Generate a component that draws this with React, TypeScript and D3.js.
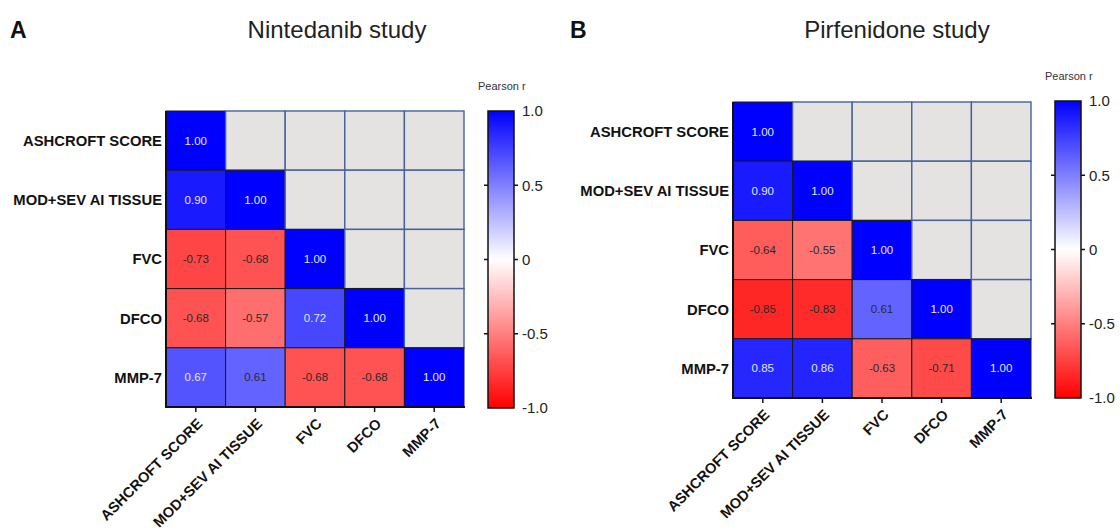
import * as d3 from "d3";

const VARIABLES = ["ASHCROFT SCORE", "MOD+SEV AI TISSUE", "FVC", "DFCO", "MMP-7"];

// Lower triangle of each correlation matrix, row by row.
const NINTEDANIB_R: number[][] = [
  [1.0],
  [0.9, 1.0],
  [-0.73, -0.68, 1.0],
  [-0.68, -0.57, 0.72, 1.0],
  [0.67, 0.61, -0.68, -0.68, 1.0],
];

const PIRFENIDONE_R: number[][] = [
  [1.0],
  [0.9, 1.0],
  [-0.64, -0.55, 1.0],
  [-0.85, -0.83, 0.61, 1.0],
  [0.85, 0.86, -0.63, -0.71, 1.0],
];

const LEGEND_TICKS = [1, 0.5, 0, -0.5, -1];
const LEGEND_LABELS = ["1.0", "0.5", "0", "-0.5", "-1.0"];

const FONT = "'Liberation Sans', Arial, sans-serif";
const W = 1120;
const H = 531;

const color = d3
  .scaleLinear<string>()
  .domain([-1, 0, 1])
  .range(["#ff0000", "#ffffff", "#0000ff"]);

type PanelProps = {
  id: string;
  letter: string;
  title: string;
  values: number[][];
  letterX: number;
  titleX: number;
  gridX: number;
  gridY: number;
  barX: number;
  barTop: number;
  barBottom: number;
};

function Panel(p: PanelProps) {
  const gridW = 298;
  const gridH = 296;
  const x = d3.scaleBand<string>().domain(VARIABLES).range([p.gridX, p.gridX + gridW]);
  const y = d3.scaleBand<string>().domain(VARIABLES).range([p.gridY, p.gridY + gridH]);
  const barW = 26;
  const yBar = d3.scaleLinear().domain([-1, 1]).range([p.barBottom, p.barTop]);
  const gradId = `grad-${p.id}`;

  const cells: JSX.Element[] = [];
  VARIABLES.forEach((rowName, i) => {
    VARIABLES.forEach((colName, j) => {
      const x0 = x(colName)!;
      const y0 = y(rowName)!;
      if (j > i) {
        cells.push(
          <rect
            key={`e${i}${j}`}
            x={x0}
            y={y0}
            width={x.bandwidth()}
            height={y.bandwidth()}
            fill="#e5e2e2"
            stroke="#47639a"
            strokeWidth={1.4}
          />,
        );
        return;
      }
      const v = p.values[i][j];
      cells.push(
        <g key={`c${i}${j}`}>
          <rect
            x={x0}
            y={y0}
            width={x.bandwidth()}
            height={y.bandwidth()}
            fill={color(v)}
            stroke="#1a1a1a"
            strokeWidth={1}
          />
          <text
            x={x0 + x.bandwidth() / 2}
            y={y0 + y.bandwidth() / 2}
            dy="0.35em"
            textAnchor="middle"
            fontSize={11.5}
            fill={v >= 0.65 ? "#e4e4ff" : "#2a2a2a"}
          >
            {v.toFixed(2)}
          </text>
        </g>,
      );
    });
  });

  const bottom = p.gridY + gridH;

  return (
    <g fontFamily={FONT}>
      <defs>
        <linearGradient id={gradId} x1="0" y1="1" x2="0" y2="0">
          <stop offset="0%" stopColor={color(-1)} />
          <stop offset="50%" stopColor={color(0)} />
          <stop offset="100%" stopColor={color(1)} />
        </linearGradient>
      </defs>
      <text x={p.letterX} y={38} fontSize={23} fontWeight="bold" fill="#111">
        {p.letter}
      </text>
      <text x={p.titleX} y={38} fontSize={24} textAnchor="middle" fill="#222">
        {p.title}
      </text>

      {cells}

      {/* axis lines */}
      <line x1={p.gridX} x2={p.gridX} y1={p.gridY} y2={bottom + 1} stroke="#111" strokeWidth={2} />
      <line x1={p.gridX - 1} x2={p.gridX + gridW + 1} y1={bottom} y2={bottom} stroke="#111" strokeWidth={2} />

      {VARIABLES.map((name) => (
        <text
          key={`r-${name}`}
          x={p.gridX - 4}
          y={y(name)! + y.bandwidth() / 2}
          dy="0.36em"
          textAnchor="end"
          fontSize={14.8}
          fontWeight="bold"
          fill="#111"
        >
          {name}
        </text>
      ))}

      {VARIABLES.map((name) => {
        const cx = x(name)! + x.bandwidth() / 2;
        return (
          <g key={`c-${name}`}>
            <line x1={cx} x2={cx} y1={bottom} y2={bottom + 5} stroke="#111" strokeWidth={1.5} />
            <text
              transform={`translate(${cx + 4},${bottom + 14}) rotate(-45)`}
              dy="0.35em"
              textAnchor="end"
              fontSize={14.6}
              fontWeight="bold"
              fill="#111"
            >
              {name}
            </text>
          </g>
        );
      })}

      {/* colour legend */}
      <text x={p.barX - 10} y={p.barTop - 21} fontSize={11} fill="#333">
        Pearson r
      </text>
      <rect
        x={p.barX}
        y={p.barTop}
        width={barW}
        height={p.barBottom - p.barTop}
        fill={`url(#${gradId})`}
        stroke="#111"
        strokeWidth={1.5}
      />
      {LEGEND_TICKS.map((t, k) => (
        <g key={`t-${t}`}>
          {Math.abs(t) < 1 && (
            <>
              <line x1={p.barX - 4} x2={p.barX} y1={yBar(t)} y2={yBar(t)} stroke="#111" strokeWidth={1.5} />
              <line
                x1={p.barX + barW}
                x2={p.barX + barW + 4}
                y1={yBar(t)}
                y2={yBar(t)}
                stroke="#111"
                strokeWidth={1.5}
              />
            </>
          )}
          <text x={p.barX + barW + 8} y={yBar(t)} dy="0.36em" fontSize={15} fill="#222">
            {LEGEND_LABELS[k]}
          </text>
        </g>
      ))}
    </g>
  );
}

export default function App() {
  return (
    <svg
      width={W}
      height={H}
      viewBox={`0 0 ${W} ${H}`}
      style={{ position: "absolute", left: 0, top: 0, background: "#fff" }}
    >
      <rect width={W} height={H} fill="#fff" />
      <Panel
        id="a"
        letter="A"
        title="Nintedanib study"
        values={NINTEDANIB_R}
        letterX={10}
        titleX={337}
        gridX={166}
        gridY={111}
        barX={488}
        barTop={111}
        barBottom={408}
      />
      <Panel
        id="b"
        letter="B"
        title="Pirfenidone study"
        values={PIRFENIDONE_R}
        letterX={570}
        titleX={897}
        gridX={733}
        gridY={102}
        barX={1055}
        barTop={101}
        barBottom={398}
      />
    </svg>
  );
}
